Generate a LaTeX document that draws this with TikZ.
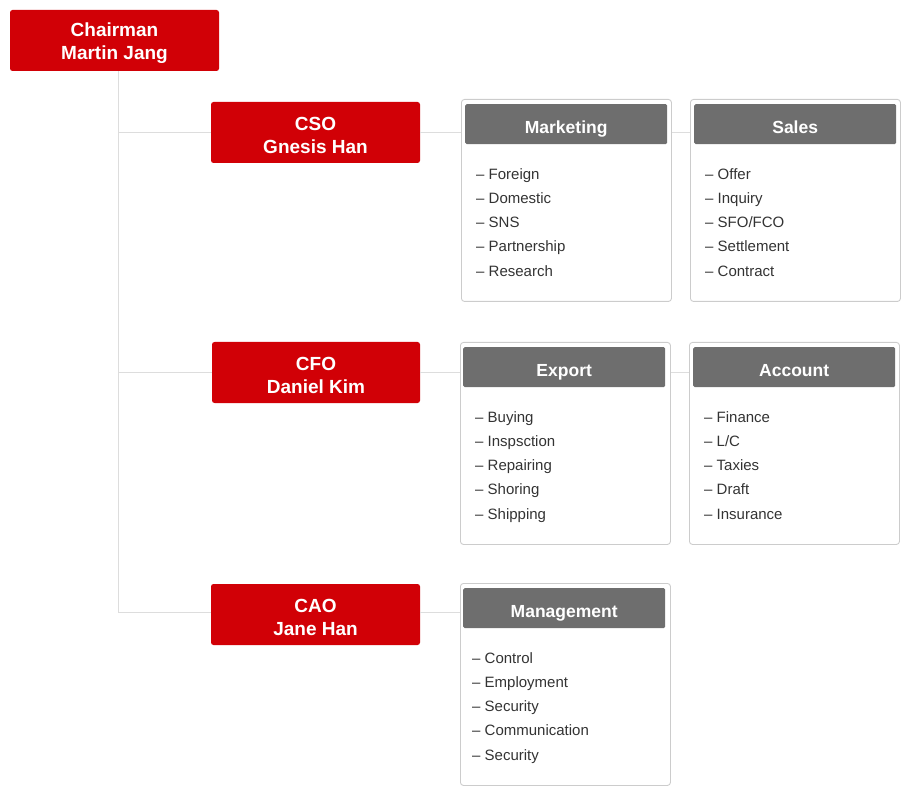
\documentclass[tikz,border=0pt]{standalone}
\usepackage{fontspec}
\setmainfont{Liberation Sans}
\definecolor{cred}{HTML}{D10006}
\definecolor{chead}{HTML}{6E6E6E}
\definecolor{cline}{HTML}{DDDDDD}
\definecolor{cbord}{HTML}{CCCCCC}
\definecolor{ctext}{HTML}{333333}
\begin{document}
\begin{tikzpicture}[x=1pt,y=-1pt,
  redbox/.style={fill=cred,rounded corners=2.5pt,inner sep=0pt,minimum height=61pt},
  redtext/.style={text=white,font=\fontsize{19}{23}\selectfont\bfseries,align=center,inner sep=0pt},
  outer/.style={draw=cbord,line width=0.9pt,rounded corners=3pt,inner sep=0pt,minimum width=210pt,minimum height=202pt,anchor=north west},
  head/.style={fill=chead,rounded corners=1.5pt,text=white,font=\fontsize{17.5}{20}\selectfont\bfseries,inner sep=0pt,text height=18pt,text depth=0pt,minimum width=202pt,minimum height=40pt,anchor=north west},
  items/.style={text=ctext,font=\fontsize{15}{24.3}\selectfont,align=left,anchor=north west,inner sep=0pt},
  conn/.style={draw=cline,line width=1pt}]
\useasboundingbox (0,0) rectangle (916,802);
% red boxes
\node[redbox,minimum width=209pt] (chair) at (114.5,40.5) {};
\node[redtext] (chairt) at ([yshift=-3pt]chair.center) {Chairman\\Martin Jang};
\node[redbox,minimum width=209pt] (cso) at (315.5,132.5) {};
\node[redtext] (csot) at ([yshift=-3pt]cso.center) {CSO\\Gnesis Han};
\node[redbox,minimum width=208pt] (cfo) at (316,372.5) {};
\node[redtext] (cfot) at ([yshift=-3pt]cfo.center) {CFO\\Daniel Kim};
\node[redbox,minimum width=209pt] (cao) at (315.5,614.5) {};
\node[redtext] (caot) at ([yshift=-3pt]cao.center) {CAO\\Jane Han};
% department boxes
\node[outer] (mkt) at (461,99) {};
\node[head] (mkth) at (465,104) {Marketing};
\node[items] (mkti) at (476,168) {– Foreign\\– Domestic\\– SNS\\– Partnership\\– Research};
\node[outer] (sal) at (690,99) {};
\node[head] (salh) at (694,104) {Sales};
\node[items] (sali) at (705,168) {– Offer\\– Inquiry\\– SFO/FCO\\– Settlement\\– Contract};
\node[outer] (exp) at (460,342) {};
\node[head] (exph) at (463,347) {Export};
\node[items] (expi) at (475,411) {– Buying\\– Inspsction\\– Repairing\\– Shoring\\– Shipping};
\node[outer] (acc) at (689,342) {};
\node[head] (acch) at (693,347) {Account};
\node[items] (acci) at (704,411) {– Finance\\– L/C\\– Taxies\\– Draft\\– Insurance};
\node[outer] (mgt) at (460,583) {};
\node[head] (mgth) at (463,588) {Management};
\node[items] (mgti) at (472,652) {– Control\\– Employment\\– Security\\– Communication\\– Security};
% connectors
\coordinate (sp) at (118,0);
\draw[conn] (chair.south -| sp) |- (cso.west);
\draw[conn] (chair.south -| sp) |- (cfo.west);
\draw[conn] (chair.south -| sp) |- (cao.west |- 0,612);
\draw[conn] (cso.east) -- (cso.east -| mkt.west);
\draw[conn] (mkt.east |- cso.east) -- (sal.west |- cso.east);
\draw[conn] (cfo.east) -- (cfo.east -| exp.west);
\draw[conn] (exp.east |- cfo.east) -- (acc.west |- cfo.east);
\draw[conn] (cao.east |- 0,612) -- (mgt.west |- 0,612);
\end{tikzpicture}
\end{document}
